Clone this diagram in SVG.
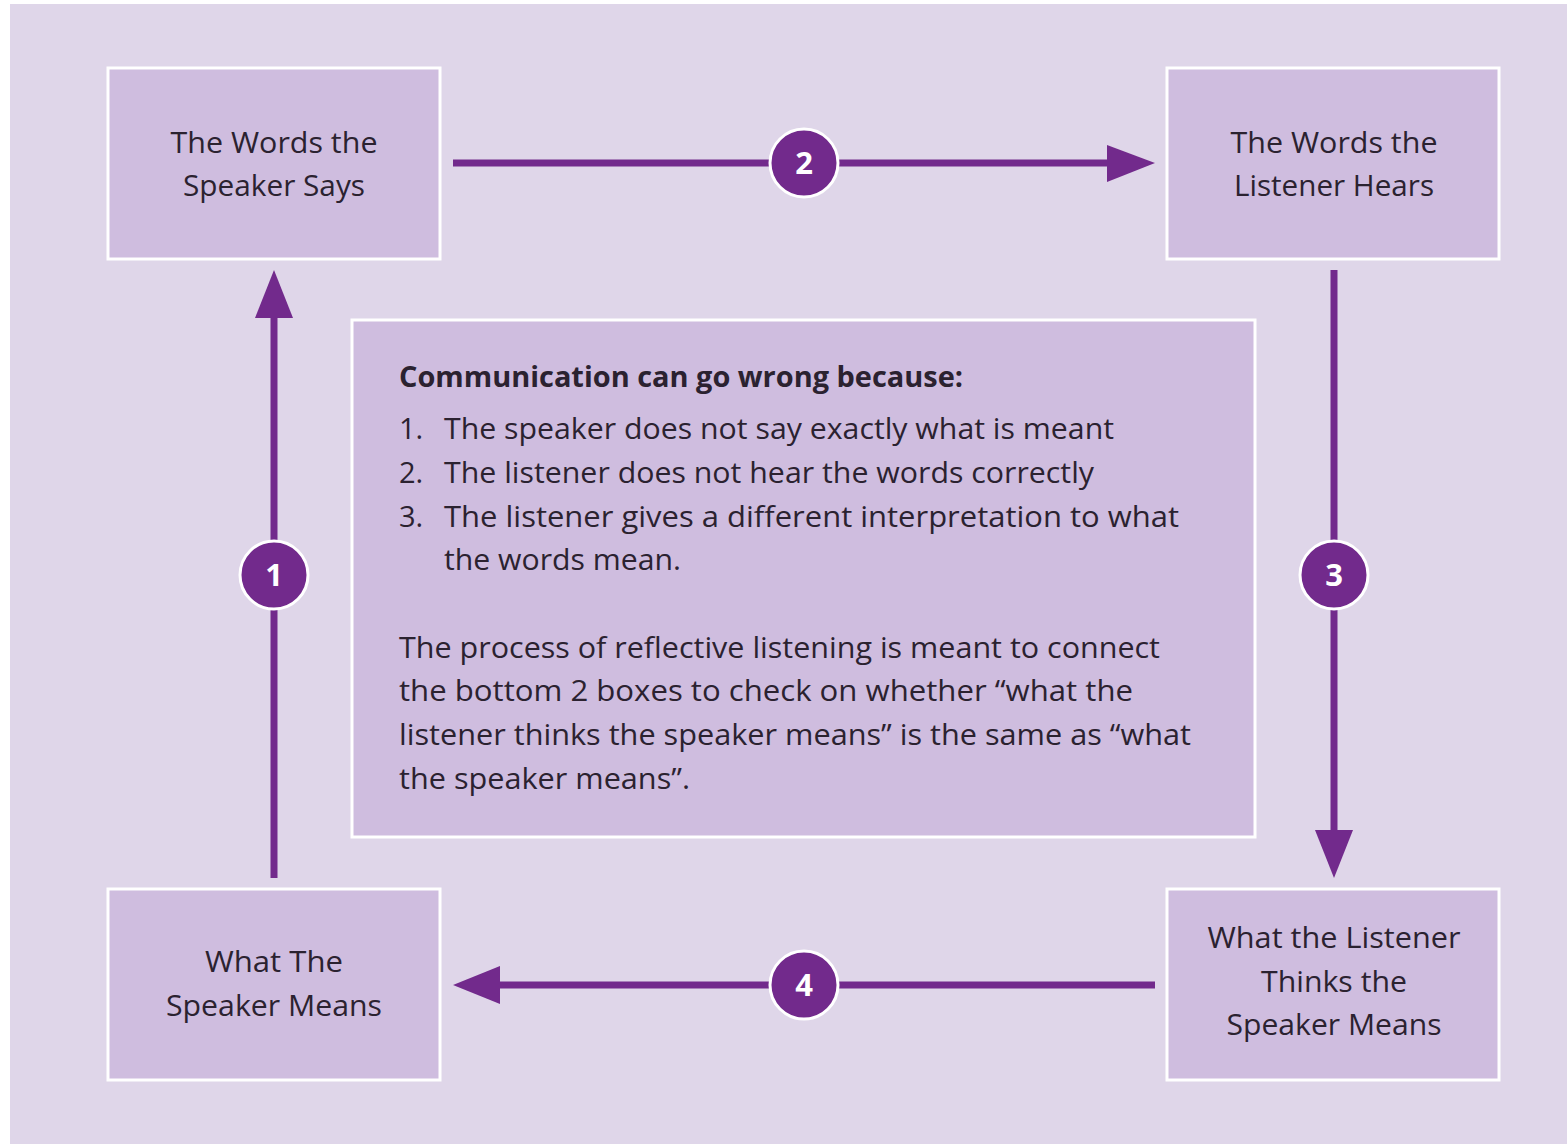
<svg xmlns="http://www.w3.org/2000/svg" width="1567" height="1144" viewBox="0 0 1567 1144">
<defs>
<style>
.box{fill:#CFBDDF;stroke:#FFFFFF;stroke-width:3}
.t{font-family:"Open Sans","Noto Sans",sans-serif;font-size:29px;fill:#2B2230}
.c{text-anchor:middle}
.b{font-weight:bold}
.ln{stroke:#722A8C;stroke-width:7;fill:none}
.hd{fill:#722A8C}
.num{fill:#722A8C;stroke:#FFFFFF;stroke-width:3}
.nt{font-family:"Open Sans","Noto Sans",sans-serif;font-size:31px;font-weight:bold;fill:#FFFFFF;text-anchor:middle}
</style>
</defs>
<rect x="0" y="0" width="1567" height="1144" fill="#FFFFFF"/>
<rect x="10" y="4" width="1557" height="1140" fill="#DFD6E9"/>

<g id="connectors">
  <line class="ln" x1="453" y1="163" x2="1112" y2="163"/>
  <polygon class="hd" points="1107,145 1155,163 1107,182"/>
  <line class="ln" x1="1334" y1="270" x2="1334" y2="835"/>
  <polygon class="hd" points="1315,830 1334,878 1353,830"/>
  <line class="ln" x1="1155" y1="985" x2="495" y2="985"/>
  <polygon class="hd" points="500,966 453,985 500,1004"/>
  <line class="ln" x1="274" y1="878" x2="274" y2="313"/>
  <polygon class="hd" points="255,318 274,270 293,318"/>
  <g id="n1"><circle class="num" cx="274" cy="575" r="34"/><text class="nt" x="274" y="586">1</text></g>
  <g id="n2"><circle class="num" cx="804" cy="163" r="34"/><text class="nt" x="804" y="174">2</text></g>
  <g id="n3"><circle class="num" cx="1334" cy="575" r="34"/><text class="nt" x="1334" y="586">3</text></g>
  <g id="n4"><circle class="num" cx="804" cy="985" r="34"/><text class="nt" x="804" y="996">4</text></g>
</g>

<g id="speaker-says">
  <rect class="box" x="108" y="68" width="332" height="191"/>
  <text class="t c" x="274" y="153" textLength="207" lengthAdjust="spacingAndGlyphs">The Words the</text>
  <text class="t c" x="274" y="196" textLength="182" lengthAdjust="spacingAndGlyphs">Speaker Says</text>
</g>
<g id="listener-hears">
  <rect class="box" x="1167" y="68" width="332" height="191"/>
  <text class="t c" x="1334" y="153" textLength="207" lengthAdjust="spacingAndGlyphs">The Words the</text>
  <text class="t c" x="1334" y="196" textLength="200" lengthAdjust="spacingAndGlyphs">Listener Hears</text>
</g>
<g id="listener-thinks">
  <rect class="box" x="1167" y="889" width="332" height="191"/>
  <text class="t c" x="1334" y="948" textLength="253" lengthAdjust="spacingAndGlyphs">What the Listener</text>
  <text class="t c" x="1334" y="992" textLength="146" lengthAdjust="spacingAndGlyphs">Thinks the</text>
  <text class="t c" x="1334" y="1035" textLength="215" lengthAdjust="spacingAndGlyphs">Speaker Means</text>
</g>
<g id="speaker-means">
  <rect class="box" x="108" y="889" width="332" height="191"/>
  <text class="t c" x="274" y="972" textLength="138" lengthAdjust="spacingAndGlyphs">What The</text>
  <text class="t c" x="274" y="1016" textLength="216" lengthAdjust="spacingAndGlyphs">Speaker Means</text>
</g>
<g id="center-note">
  <rect class="box" x="352" y="320" width="903" height="517"/>
  <text class="t b" x="399" y="387" textLength="564" lengthAdjust="spacingAndGlyphs">Communication can go wrong because:</text>
  <text class="t" x="399" y="439">1.</text>
  <text class="t" x="444" y="439" textLength="670" lengthAdjust="spacingAndGlyphs">The speaker does not say exactly what is meant</text>
  <text class="t" x="399" y="483">2.</text>
  <text class="t" x="444" y="483" textLength="650" lengthAdjust="spacingAndGlyphs">The listener does not hear the words correctly</text>
  <text class="t" x="399" y="527">3.</text>
  <text class="t" x="444" y="527" textLength="735" lengthAdjust="spacingAndGlyphs">The listener gives a different interpretation to what</text>
  <text class="t" x="444" y="570" textLength="237" lengthAdjust="spacingAndGlyphs">the words mean.</text>
  <text class="t" x="399" y="658" textLength="761" lengthAdjust="spacingAndGlyphs">The process of reflective listening is meant to connect</text>
  <text class="t" x="399" y="701" textLength="734" lengthAdjust="spacingAndGlyphs">the bottom 2 boxes to check on whether “what the</text>
  <text class="t" x="399" y="745" textLength="792" lengthAdjust="spacingAndGlyphs">listener thinks the speaker means” is the same as “what</text>
  <text class="t" x="399" y="789" textLength="291" lengthAdjust="spacingAndGlyphs">the speaker means”.</text>
</g>
</svg>
